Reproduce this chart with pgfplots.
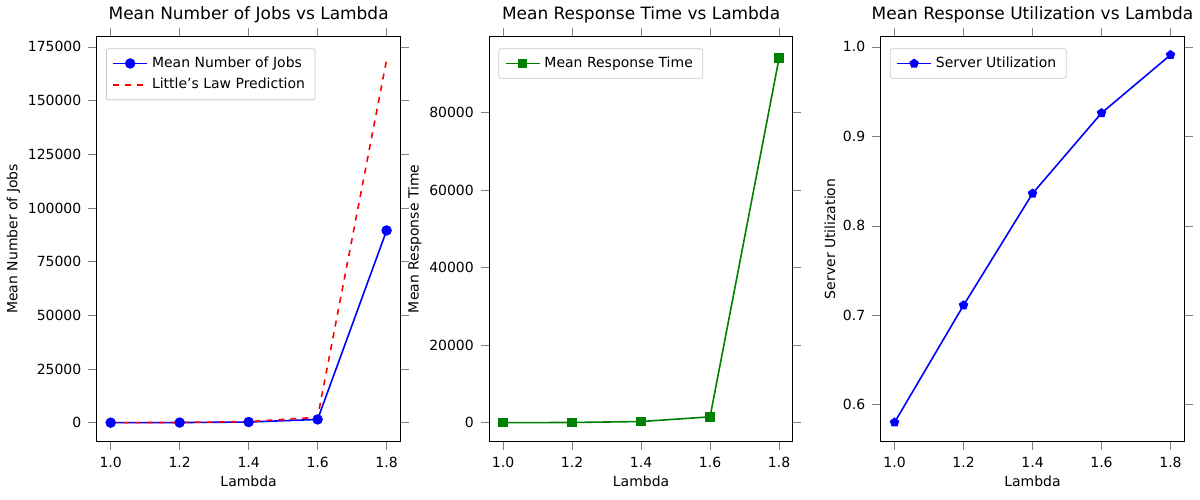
\documentclass[border=0pt]{standalone}
\usepackage{pgfplots}
\pgfplotsset{compat=1.18}
\usepackage{fontspec}
\setmainfont{DejaVu Sans}
\begin{document}
\begin{tikzpicture}
\fill[white] (0,0) rectangle (600pt,250pt);
\pgfplotsset{every axis/.style={scale only axis, width=152pt, height=203pt, anchor=south west,
  xmin=0.96, xmax=1.84, xtick={1.0,1.2,1.4,1.6,1.8},
  xticklabel style={/pgf/number format/.cd,fixed,fixed zerofill,precision=1},
  /pgf/number format/assume math mode=true,
  tick label style={font=\fontsize{7}{8}\selectfont},
  label style={font=\fontsize{7}{8}\selectfont},
  title style={font=\fontsize{8.5}{10}\selectfont, yshift=-3pt},
  legend style={font=\fontsize{7}{8}\selectfont, at={(0.03,0.97)}, anchor=north west, draw=black!20, rounded corners=1pt},
  legend cell align=left, tick align=outside, xlabel={Lambda}, scaled ticks=false,
  yticklabel style={/pgf/number format/.cd,fixed,1000 sep={}},
  xlabel style={yshift=3pt}, ylabel style={yshift=-3pt}}}
\begin{axis}[at={(48.5pt,29pt)}, ymin=-8800, ymax=180000, ytick={0,25000,50000,75000,100000,125000,150000,175000},
 title={Mean Number of Jobs vs Lambda}, ylabel={Mean Number of Jobs}]
\addplot[blue, thick, mark=*, mark size=2.2pt] coordinates {(1.0,0) (1.2,50) (1.4,300) (1.6,1500) (1.8,89500)};
\addlegendentry{Mean Number of Jobs}
\addplot[red, thick, dashed] coordinates {(1.0,0) (1.2,100) (1.4,500) (1.6,2500) (1.8,169000)};
\addlegendentry{Little's Law Prediction}
\end{axis}
\begin{axis}[at={(245pt,29pt)}, ymin=-4870, ymax=99700, ytick={0,20000,40000,60000,80000},
 title={Mean Response Time vs Lambda}, ylabel={Mean Response Time}]
\addplot[green!50!black, thick, mark=square*, mark size=2pt] coordinates {(1.0,0) (1.2,50) (1.4,300) (1.6,1500) (1.8,94000)};
\addlegendentry{Mean Response Time}
\end{axis}
\begin{axis}[at={(441pt,29pt)}, ymin=0.5586, ymax=1.012, ytick={0.6,0.7,0.8,0.9,1.0},
 yticklabel style={/pgf/number format/.cd,fixed,fixed zerofill,precision=1},
 title={Mean Response Utilization vs Lambda}, ylabel={Server Utilization}]
\addplot[blue, thick, mark=pentagon*, mark size=2pt] coordinates {(1.0,0.58) (1.2,0.711) (1.4,0.836) (1.6,0.926) (1.8,0.991)};
\addlegendentry{Server Utilization}
\end{axis}
\end{tikzpicture}
\end{document}
